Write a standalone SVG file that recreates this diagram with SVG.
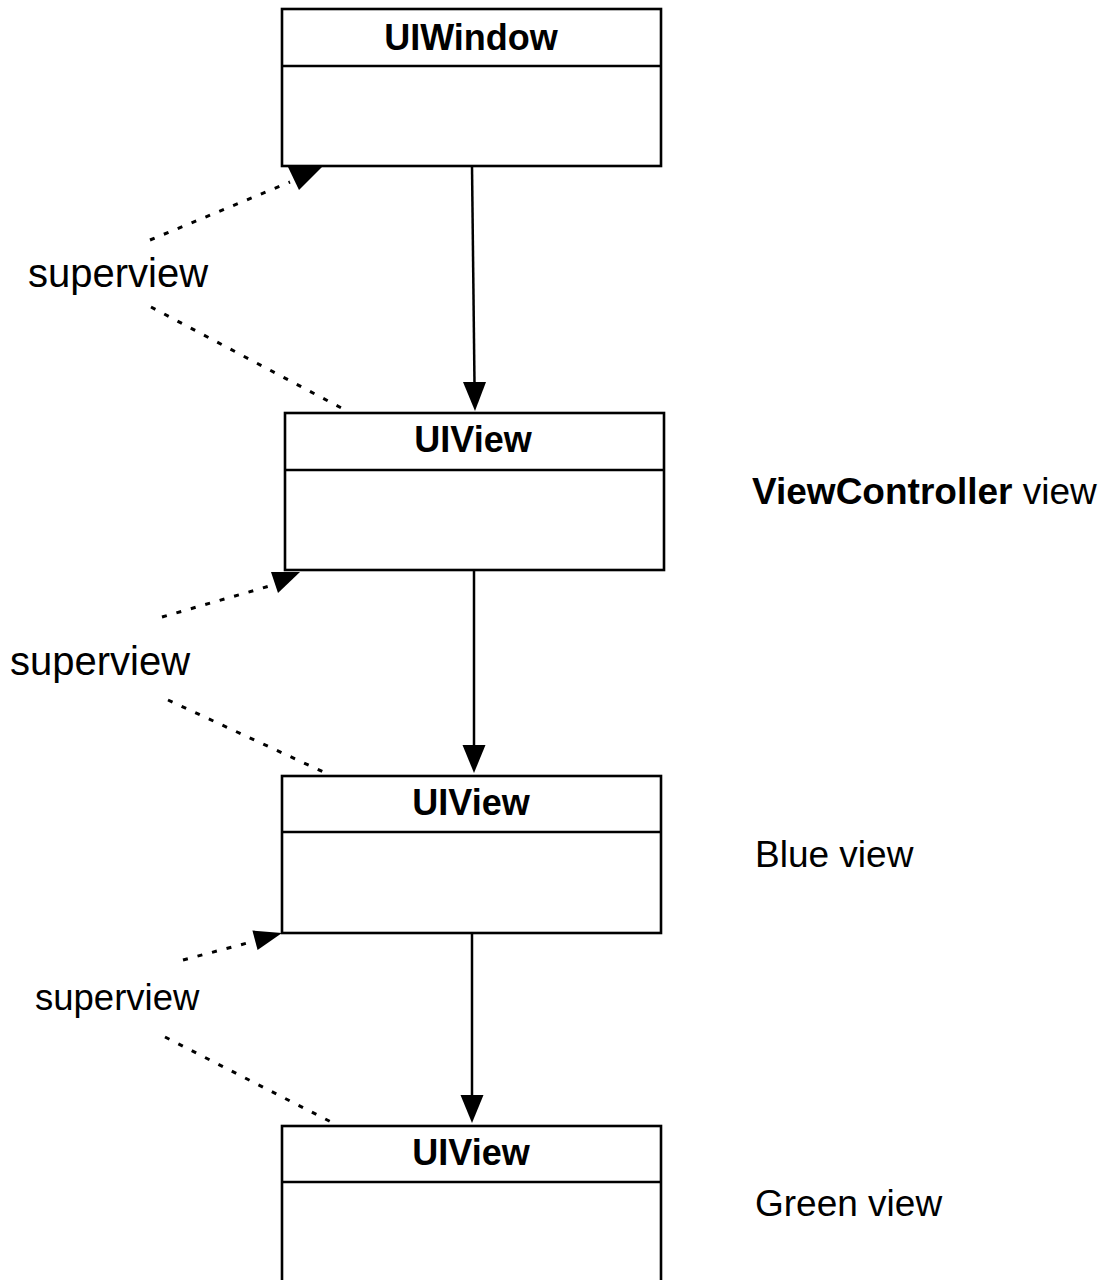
<svg xmlns="http://www.w3.org/2000/svg" width="1112" height="1280" viewBox="0 0 1112 1280">
<style>
.box{fill:#fff;stroke:#000;stroke-width:2.6}
.div{stroke:#000;stroke-width:2.6}
.title{font-family:"Liberation Sans",Arial,sans-serif;font-weight:bold;font-size:36px;text-anchor:middle;fill:#000}
.lbl{font-family:"Liberation Sans",Arial,sans-serif;font-size:37px;fill:#000}
.sv{font-family:"Liberation Sans",Arial,sans-serif;font-size:40px;fill:#000}
.solid{stroke:#000;stroke-width:2.5;fill:none}
.dash{stroke:#000;stroke-width:3;fill:none;stroke-dasharray:5 10}
.head{fill:#000}
</style>
<rect width="1112" height="1280" fill="#fff"/>
<g id="connectors">
  <line class="solid" x1="472" y1="166" x2="474.5" y2="384"/>
  <polygon class="head" points="463,382 486,382 475,411"/>
  <line class="solid" x1="474" y1="570" x2="474" y2="746"/>
  <polygon class="head" points="462.5,745 485.5,745 474,773"/>
  <line class="solid" x1="472" y1="933" x2="472" y2="1096"/>
  <polygon class="head" points="460.5,1095 483.5,1095 472,1123"/>
  <line class="dash" x1="150" y1="240" x2="290" y2="182"/>
  <polygon class="head" points="288,167 322,167 299,190"/>
  <line class="dash" x1="151" y1="307" x2="347" y2="411"/>
  <line class="dash" x1="162" y1="617" x2="273" y2="585"/>
  <polygon class="head" points="271,572 300,572 278,593"/>
  <line class="dash" x1="168" y1="700" x2="330" y2="775"/>
  <line class="dash" x1="183" y1="960" x2="255" y2="941"/>
  <polygon class="head" points="282,933 257.6,950 252.4,930.5"/>
  <line class="dash" x1="165" y1="1037" x2="337" y2="1125"/>
</g>
<g id="uiwindow">
  <rect class="box" x="282" y="9" width="379" height="157"/>
  <line class="div" x1="282" y1="66" x2="661" y2="66"/>
  <text class="title" x="471" y="50">UIWindow</text>
</g>
<g id="vc-view">
  <rect class="box" x="285" y="413" width="379" height="157"/>
  <line class="div" x1="285" y1="470" x2="664" y2="470"/>
  <text class="title" x="473" y="452">UIView</text>
</g>
<g id="blue-view">
  <rect class="box" x="282" y="776" width="379" height="157"/>
  <line class="div" x1="282" y1="832" x2="661" y2="832"/>
  <text class="title" x="471" y="815">UIView</text>
</g>
<g id="green-view">
  <rect class="box" x="282" y="1126" width="379" height="160"/>
  <line class="div" x1="282" y1="1182" x2="661" y2="1182"/>
  <text class="title" x="471" y="1165">UIView</text>
</g>
<g id="labels">
  <text class="sv" x="28" y="287">superview</text>
  <text class="sv" x="10" y="675">superview</text>
  <text class="sv" x="35" y="1010" style="font-size:36.5px">superview</text>
  <text class="lbl" x="752" y="504"><tspan font-weight="bold">ViewController</tspan> view</text>
  <text class="lbl" x="755" y="867">Blue view</text>
  <text class="lbl" x="755" y="1216">Green view</text>
</g>
</svg>
